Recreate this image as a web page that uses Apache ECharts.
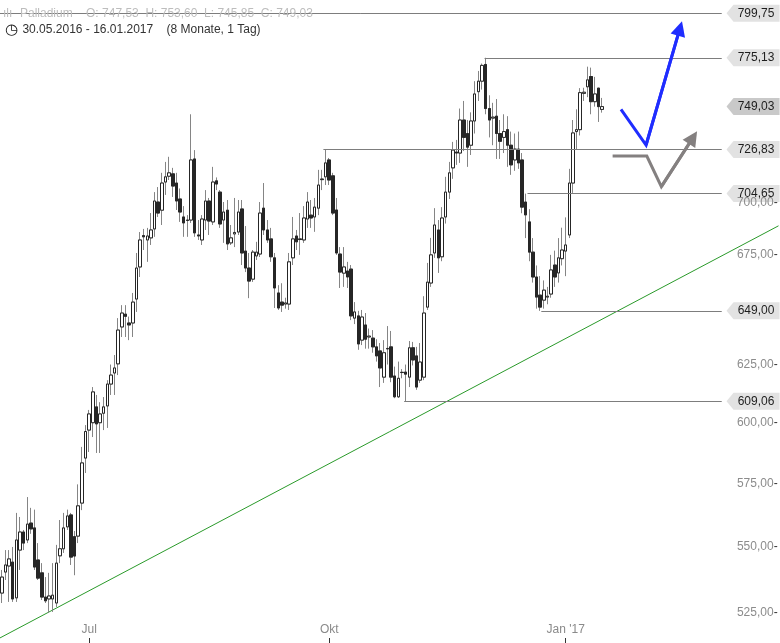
<!DOCTYPE html>
<html>
<head>
<meta charset="utf-8">
<script src="https://cdn.jsdelivr.net/npm/echarts/dist/echarts.min.js"></script>
<style>html,body{margin:0;padding:0;background:#fff}#c{width:780px;height:643px}</style>
</head>
<body>
<div id="c"></div>
<script>
// ---------- DATA ----------
const opens = [532.4,540.3,542.6,544.1,530.6,548.7,555.7,552.6,559.2,557.3,544.9,540.0,530.9,530.2,530.2,528.7,546.5,549.2,557.7,562.4,553.9,554.1,567.1,585.3,596.9,600.0,606.7,600.0,604.0,607.1,616.5,621.3,625.3,641.7,647.5,643.5,643.5,654.4,669.3,684.2,682.1,683.1,687.4,700.5,696.5,710.4,713.3,714.5,709.9,702.0,693.2,691.7,691.7,722.0,684.5,682.1,691.7,701.0,690.8,711.0,705.4,691.7,696.5,680.7,685.0,685.9,697.1,676.8,668.8,663.6,674.5,675.4,697.5,686.9,682.6,673.6,657.2,653.0,652.1,652.1,673.6,684.0,682.6,682.1,692.2,694.1,693.2,697.5,711.6,713.0,721.5,713.5,696.6,675.4,666.4,667.4,668.3,645.7,646.7,635.8,642.6,637.2,636.7,632.8,631.0,619.5,631.9,632.8,620.0,611.0,621.5,621.7,619.5,632.4,628.8,618.2,619.5,650.7,661.8,675.9,686.9,674.1,693.2,705.4,717.5,725.5,725.0,742.0,735.0,729.0,741.5,756.9,762.5,771.5,748.0,743.0,744.0,735.0,733.0,737.0,729.0,721.5,727.0,721.5,700.5,690.8,676.3,664.6,656.2,653.9,655.3,656.7,670.2,666.5,673.2,676.8,684.5,709.9,736.0,737.0,756.0,759.5,765.0,751.6,758.8,747.53];
const closes = [538.4,543.0,545.3,530.2,552.6,555.7,551.4,558.8,556.9,542.2,538.0,530.9,529.5,531.3,531.6,543.7,549.2,557.3,562.0,546.0,546.4,566.0,583.3,596.3,603.7,613.1,599.5,603.7,606.7,616.5,620.4,623.5,640.3,648.0,646.5,642.6,653.0,668.8,682.1,683.6,684.0,686.9,701.0,695.1,709.9,713.0,715.0,708.4,701.0,695.6,690.3,691.5,721.5,685.5,684.0,692.2,701.0,691.2,710.4,709.4,689.8,695.6,680.2,683.1,685.7,695.6,675.9,668.8,662.7,676.3,676.3,695.1,686.9,682.1,674.1,659.5,650.3,651.6,652.6,671.7,682.6,681.2,682.3,692.7,700.5,692.7,698.0,708.9,711.9,720.0,711.4,695.1,675.9,666.9,669.3,664.6,646.7,648.5,634.1,646.2,636.2,637.6,632.8,628.8,623.5,630.2,632.1,619.5,611.0,619.0,621.6,620.8,632.4,627.0,615.2,626.1,648.0,662.2,675.0,689.3,673.6,692.7,705.4,715.0,726.5,725.0,742.0,733.0,728.0,741.5,755.7,762.5,771.0,748.0,742.0,743.5,735.0,731.0,736.0,729.0,719.0,727.0,720.0,698.0,694.2,676.3,664.6,655.3,650.7,658.5,655.7,667.9,664.6,673.6,677.3,679.7,709.9,735.3,737.0,756.4,756.6,763.2,751.6,755.7,749.0,749.03];
const highs = [541.1,548.7,548.7,549.9,563.2,561.6,556.5,569.5,565.2,564.5,551.4,543.7,538.4,540.0,543.7,550.7,560.4,563.2,564.5,563.2,556.1,574.6,589.9,599.0,605.4,615.2,611.8,608.7,610.9,618.2,625.0,629.2,645.7,651.6,651.6,646.4,657.2,675.9,685.9,687.4,687.9,695.1,705.4,707.9,715.0,720.5,723.1,717.5,715.0,707.2,698.5,694.1,745.0,726.5,691.7,694.1,706.4,702.5,718.0,712.7,706.4,700.5,701.5,689.3,702.5,701.5,701.5,688.8,675.9,677.3,681.2,700.5,709.9,691.7,687.9,675.9,660.8,661.7,655.0,675.9,693.2,686.9,695.1,698.5,705.4,701.5,702.5,716.5,716.5,726.83,722.5,715.0,702.5,678.7,678.7,671.7,670.2,653.0,649.0,649.4,648.0,641.0,640.3,636.2,634.5,635.8,642.1,639.9,624.1,626.3,623.0,625.0,635.4,635.0,632.8,634.5,655.7,671.2,683.1,697.5,691.7,698.0,713.0,720.5,730.7,731.7,748.0,752.0,742.0,746.0,762.5,768.0,772.0,775.13,755.0,751.0,753.0,742.0,745.0,744.0,736.0,735.0,736.0,725.0,704.65,697.0,683.0,670.0,665.0,663.0,660.0,675.0,677.0,683.0,688.0,693.0,717.0,742.0,747.6,758.8,759.0,770.3,769.8,764.8,758.8,753.60];
const lows = [528.7,537.3,529.1,529.1,529.1,541.1,548.7,551.4,555.0,541.1,537.3,529.8,528.7,525.0,525.4,527.2,543.7,547.6,556.5,543.0,539.1,551.4,564.3,579.2,587.8,594.0,587.4,587.4,596.9,597.8,611.8,611.8,620.4,637.2,637.2,635.8,637.2,648.5,664.6,677.3,671.7,679.7,683.6,693.2,689.3,704.0,711.4,703.0,696.6,690.8,683.6,683.6,690.3,683.6,682.1,679.7,686.9,684.5,689.3,706.4,687.9,680.7,677.3,679.7,678.7,684.5,670.2,666.9,654.8,662.3,672.6,674.0,684.5,680.7,671.7,650.3,649.4,648.5,650.0,649.4,670.2,677.3,675.0,680.7,687.9,687.9,686.0,694.1,706.4,708.9,708.9,694.1,675.0,659.5,660.0,659.5,644.8,643.0,631.5,633.6,632.0,632.0,630.2,626.3,615.2,617.0,625.0,617.3,610.4,610.5,619.0,609.06,615.2,624.6,614.0,617.0,618.2,649.4,660.0,673.6,666.5,672.0,690.0,702.0,712.0,719.0,720.0,726.0,718.0,724.0,735.0,752.0,758.0,745.0,733.0,729.0,722.0,722.0,725.0,718.0,714.0,716.0,717.0,695.0,683.0,672.0,662.0,650.0,649.0,650.0,652.0,655.0,660.0,662.0,670.0,665.0,683.0,705.0,727.0,734.0,752.0,754.0,745.0,749.0,741.0,745.85];

const xTickLabels = [['2016-07-01', 'Jul'], ['2016-10-03', 'Okt'], ['2017-01-02', "Jan '17"]];
const yTicks = [525, 550, 575, 600, 625, 675, 700];
const levels = [799.75, 775.13, 749.03, 726.83, 704.65, 649.00, 609.06];
const levelStartIdx = [-0.5, 132.7, null, 88.4, 144.5, 148.3, 110.6];
const trendX = [-0.5, 213.5];
const trendY = [515.9, 688.9];
const blueX = [170.2, 177.1, 186.4];
const blueY = [747.6, 729.1, 791.3];
const grayX = [167.9, 177.3, 181.3, 190.0];
const grayY = [723.5, 723.5, 708.1, 732.9];

// ---------- BUILD ----------
const FONT = "'Liberation Sans', Arial, sans-serif";
const fmt = v => v.toFixed(2).replace('.', ',');
const categories = [];
for (let d = new Date(Date.UTC(2016, 4, 30)); categories.length < opens.length; d.setUTCDate(d.getUTCDate() + 1)) {
  const wd = d.getUTCDay();
  if (wd === 0 || wd === 6) continue;
  categories.push(d.toISOString().slice(0, 10));
}
const TOTAL = 214;
const allCats = categories.slice();
for (let k = 0; allCats.length < TOTAL; k++) allCats.push('f' + k);
const tickMap = new Map(xTickLabels);
const showTick = (idx, val) => tickMap.has(val);

const wickData = opens.map((o, i) => [o, closes[i], lows[i], highs[i]]);
const bodyData = opens.map((o, i) => [o, closes[i], Math.min(o, closes[i]), Math.max(o, closes[i])]);
const n = opens.length;
const last = n - 1;
const dmy = s => s.split('-').reverse().join('.');

const X_END = 197.9, X_TAG = 206.5, X_AXISLBL = 213.4;

const levelLines = levels.map((v, i) => levelStartIdx[i] === null ? null :
  [{ coord: [levelStartIdx[i], v] }, { coord: [X_END, v] }]).filter(Boolean);

const tagPath = 'path://M0,8.5 L7,0 L53,0 L53,17 L7,17 Z';

const chart = echarts.init(document.getElementById('c'), null, { renderer: 'canvas' });
chart.setOption({
  animation: false,
  backgroundColor: '#ffffff',
  title: {
    left: 3, top: 6, padding: 0,
    text: '{ic|ılı}{g|Palladium    O: ' + fmt(opens[last]) + '  H: ' + fmt(highs[last]) + '  L: ' + fmt(lows[last]) + '  C: ' + fmt(closes[last]) + '}\n' +
          '{clk|◷} {d|' + dmy(categories[0]) + ' - ' + dmy(categories[last]) + '    (8 Monate, 1 Tag)}',
    textStyle: {
      fontFamily: FONT, fontSize: 12, lineHeight: 16, fontWeight: 'normal',
      rich: {
        ic: { color: '#bdbdbd', fontSize: 12, fontFamily: FONT, lineHeight: 16, fontWeight: 'normal', width: 17 },
        g: { color: '#bdbdbd', fontSize: 12, fontFamily: FONT, lineHeight: 16, fontWeight: 'normal' },
        clk: { color: '#222222', fontSize: 15, fontFamily: "'DejaVu Sans', sans-serif", lineHeight: 16, fontWeight: 'bold', padding: [0, 1, 0, 2] },
        d: { color: '#333333', fontSize: 12, fontFamily: FONT, lineHeight: 16, fontWeight: 'normal' }
      }
    }
  },
  grid: { left: -1.5, top: 0, width: 780, height: 643, containLabel: false },
  xAxis: [{
    type: 'category', data: allCats, boundaryGap: true,
    axisLine: { show: false },
    axisTick: { show: true, inside: true, length: 5, alignWithLabel: true, interval: showTick, lineStyle: { color: '#333', width: 1 } },
    axisLabel: { show: true, inside: true, interval: showTick, formatter: v => tickMap.get(v) || '', color: '#8a8a8a', fontFamily: FONT, fontSize: 12, margin: 7 },
    splitLine: { show: false }
  }, {
    type: 'value', min: -0.5, max: TOTAL - 0.5, show: false
  }],
  yAxis: [{
    type: 'log', logBase: 10, min: 514.06, max: 807.2, show: false,
    splitLine: { show: false }
  }],
  series: [
    { // level lines
      type: 'line', xAxisIndex: 1, yAxisIndex: 0, data: [], silent: true, z: 1,
      markLine: {
        silent: true, symbol: ['none', 'none'], animation: false,
        lineStyle: { color: '#7d7d7d', width: 1, type: 'solid' },
        label: { show: false },
        data: levelLines
      }
    },
    { // trend line
      type: 'line', xAxisIndex: 1, yAxisIndex: 0, silent: true, z: 2,
      data: trendX.map((x, i) => [x, trendY[i]]),
      symbol: 'none', lineStyle: { color: '#2a9a2a', width: 1 }
    },
    { // wicks
      type: 'candlestick', name: 'wick', xAxisIndex: 0, yAxisIndex: 0, z: 3, silent: true,
      barWidth: 3, data: wickData,
      itemStyle: { color: 'rgba(0,0,0,0)', color0: 'rgba(0,0,0,0)', borderColor: '#858585', borderColor0: '#858585', borderWidth: 1 }
    },
    { // bodies
      type: 'candlestick', name: 'Palladium', xAxisIndex: 0, yAxisIndex: 0, z: 4,
      barWidth: 3, data: bodyData,
      itemStyle: { color: '#ffffff', color0: '#262626', borderColor: '#262626', borderColor0: '#262626', borderWidth: 1 }
    },
    { // blue projection
      type: 'line', xAxisIndex: 1, yAxisIndex: 0, silent: true, z: 5,
      data: blueX.map((x, i) => [x, blueY[i]]), symbol: 'none',
      lineStyle: { color: '#1f2dff', width: 3, cap: 'butt', join: 'miter' },
      markLine: {
        silent: true, symbol: ['none', 'triangle'], symbolSize: 15, animation: false,
        lineStyle: { color: '#1f2dff', width: 3, type: 'solid' }, itemStyle: { color: '#1f2dff' },
        label: { show: false },
        data: [[{ coord: [blueX[1], blueY[1]] }, { coord: [blueX[2], blueY[2]] }]]
      }
    },
    { // gray projection
      type: 'line', xAxisIndex: 1, yAxisIndex: 0, silent: true, z: 5,
      data: grayX.map((x, i) => [x, grayY[i]]), symbol: 'none',
      lineStyle: { color: '#848080', width: 3, cap: 'butt', join: 'miter' },
      markLine: {
        silent: true, symbol: ['none', 'triangle'], symbolSize: 15, animation: false,
        lineStyle: { color: '#848080', width: 3, type: 'solid' }, itemStyle: { color: '#848080' },
        label: { show: false },
        data: [[{ coord: [grayX[2], grayY[2]] }, { coord: [grayX[3], grayY[3]] }]]
      }
    },
    { // y tick labels
      type: 'line', xAxisIndex: 1, yAxisIndex: 0, data: [], silent: true, z: 6,
      markPoint: {
        silent: true, animation: false, symbol: 'rect', symbolSize: 1,
        itemStyle: { color: 'rgba(0,0,0,0)' },
        label: {
          show: true, position: 'left', distance: 0,
          formatter: p => '{t|' + fmt(p.value) + '}{d|-}',
          rich: {
            t: { color: '#8c8c8c', fontFamily: FONT, fontSize: 12 },
            d: { color: '#333333', fontFamily: FONT, fontSize: 12 }
          }
        },
        data: yTicks.map(v => ({ coord: [X_AXISLBL, v], value: v }))
      }
    },
    { // level tags
      type: 'line', xAxisIndex: 1, yAxisIndex: 0, data: [], silent: true, z: 7,
      markPoint: {
        silent: true, animation: false, symbol: tagPath, symbolSize: [53, 17], symbolKeepAspect: false,
        label: { show: true, position: 'inside', offset: [3, 0], color: '#1e1e1e', fontFamily: FONT, fontSize: 12, formatter: p => fmt(p.value) },
        data: levels.map(v => ({
          coord: [X_TAG, v], value: v,
          itemStyle: { color: v === closes[last] ? '#c9c9c9' : '#e2e2e2' }
        }))
      }
    }
  ]
});
</script>
</body>
</html>
